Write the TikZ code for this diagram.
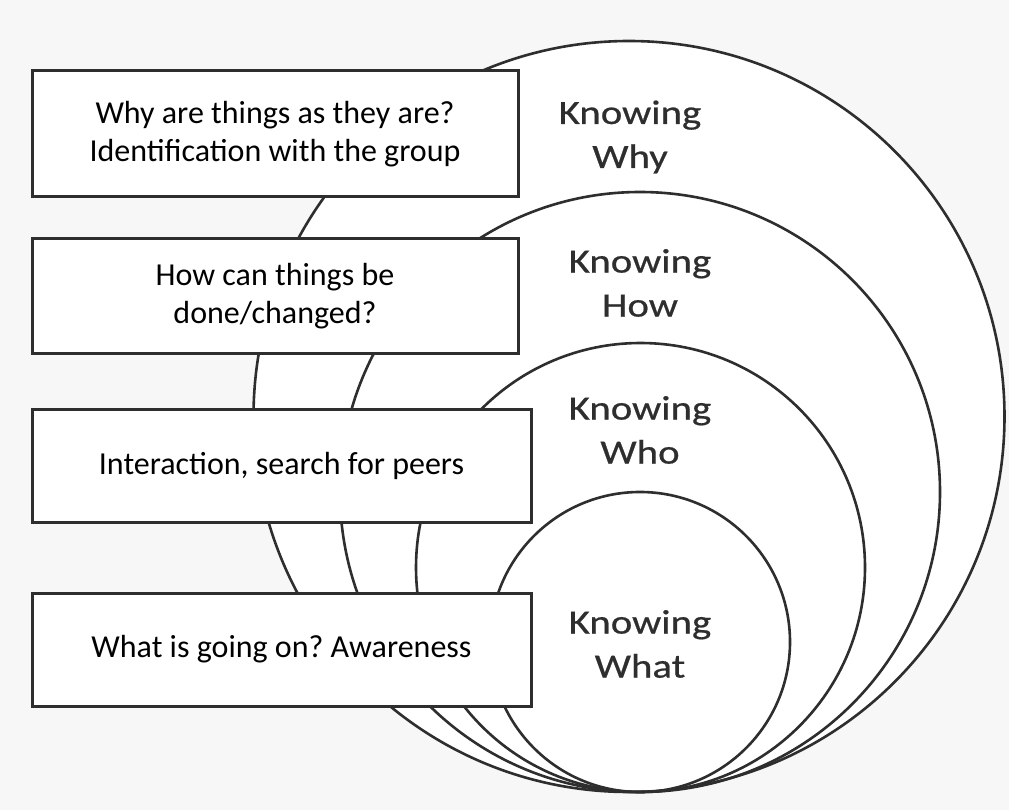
\documentclass[tikz,border=0pt]{standalone}
\usepackage{fontspec}
\setmainfont{Carlito}
\newfontfamily\labfont[FakeStretch=1.2,FakeBold=0.6]{Carlito}
\frenchspacing
\begin{document}
\begin{tikzpicture}[x=1pt,y=-1pt,
  ring/.style={draw=black!82,line width=2.6pt},
  qbox/.style={draw=black!82,line width=3pt,fill=white,rectangle,inner sep=0pt,
    align=center,font=\fontsize{32}{38}\selectfont},
  klabel/.style={align=center,text=black!82,font=\labfont\fontsize{34}{44}\selectfont}]
\useasboundingbox[fill=black!3] (0,0) rectangle (1009,810);
% nested circles, all touching at the bottom
\coordinate (cwhy) at (629,416.5);
\coordinate (chow) at (640,492);
\coordinate (cwho) at (640.5,567.5);
\coordinate (cwhat) at (640,642);
\draw[ring,fill=white] (cwhy) circle (375.5);
\draw[ring] (chow) circle (300);
\draw[ring] (cwho) circle (224.5);
\draw[ring] (cwhat) circle (150);
% labels
\node[klabel] (lwhy) at (630,137) {Knowing\\Why};
\node[klabel] (lhow) at (640,283) {Knowing\\How};
\node[klabel] (lwho) at (640,430) {Knowing\\Who};
\node[klabel] (lwhat) at (640,644) {Knowing\\What};
% question boxes
\node[qbox,minimum width=486pt,minimum height=126pt] (bwhy) at (275,134)
  {Why are things as they are?\\Identification with the group};
\node[qbox,minimum width=486pt,minimum height=114pt] (bhow) at (275,296)
  {How can things be\\done/changed?};
\node[qbox,minimum width=499pt,minimum height=113pt] (bwho) at (281.5,465.5)
  {Interaction, search for peers};
\node[qbox,minimum width=499pt,minimum height=113pt] (bwhat) at (281.5,649.5)
  {What is going on? Awareness};
\end{tikzpicture}
\end{document}
